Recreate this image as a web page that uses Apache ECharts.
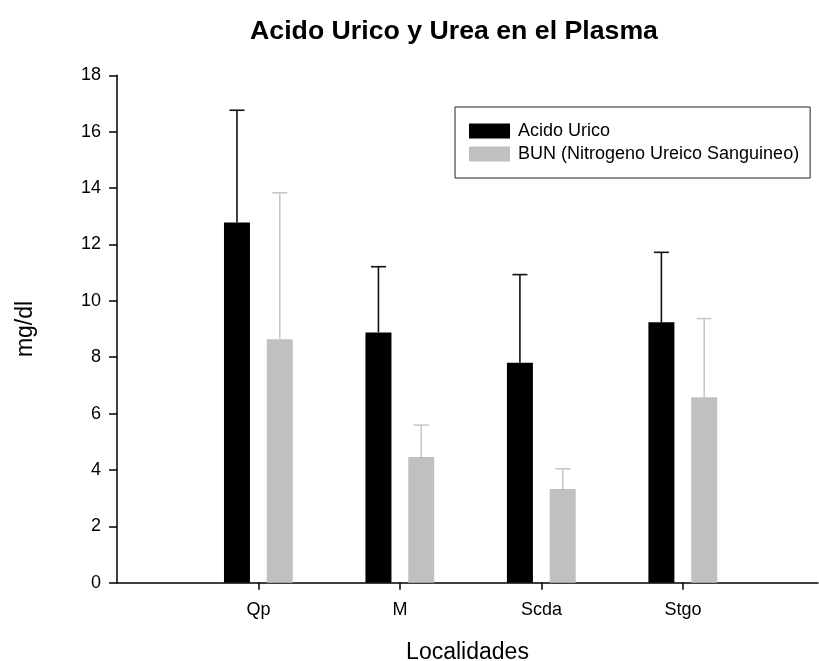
<!DOCTYPE html>
<html>
<head>
<meta charset="utf-8">
<script src="https://cdn.jsdelivr.net/npm/echarts@6/dist/echarts.min.js"></script>
<style>html,body{margin:0;padding:0;background:#fff}#c{width:819px;height:661px}</style>
</head>
<body>
<div id="c"></div>
<script>
var categories = ['Qp', 'M', 'Scda', 'Stgo'];
var seriesNames = ['Acido Urico', 'BUN (Nitrogeno Ureico Sanguineo)'];
var acidoUrico = [12.78, 8.88, 7.80, 9.24];
var acidoUricoErr = [3.98, 2.33, 3.13, 2.48];
var bun = [8.64, 4.46, 3.32, 6.58];
var bunErr = [5.19, 1.13, 0.72, 2.79];
var yTicks = [0, 2, 4, 6, 8, 10, 12, 14, 16, 18];

var chart = echarts.init(document.getElementById('c'));
var FONT = 'Liberation Sans, Arial, sans-serif';

function makeData(vals, errs) {
  return vals.map(function (v, i) { return [i + 1, v, v + errs[i]]; });
}

function barRenderer(offset, fill, errColor) {
  return function (params, api) {
    var x = api.value(0), v = api.value(1), top = api.value(2);
    var base = api.coord([x, 0]);
    var p = api.coord([x, v]);
    var e = api.coord([x, top]);
    var cx = base[0] + offset;
    var w = 26;
    return {
      type: 'group',
      children: [
        { type: 'line', shape: { x1: cx, y1: p[1], x2: cx, y2: e[1] },
          style: { stroke: errColor, lineWidth: 1.6 } },
        { type: 'line', shape: { x1: cx - 7.5, y1: e[1], x2: cx + 7.5, y2: e[1] },
          style: { stroke: errColor, lineWidth: 1.6 } },
        { type: 'rect', shape: { x: cx - w / 2, y: p[1], width: w, height: base[1] - p[1] },
          style: { fill: fill } }
      ]
    };
  };
}

var option = {
  animation: false,
  backgroundColor: '#fff',
  title: {
    text: 'Acido Urico y Urea en el Plasma',
    left: 449, top: 13, textAlign: 'center',
    textStyle: { fontFamily: FONT, fontSize: 26.7, fontWeight: 'bold', color: '#000' }
  },
  legend: {
    orient: 'vertical', left: 455, top: 107,
    padding: [15, 11, 15, 14],
    borderColor: '#222', borderWidth: 1,
    itemWidth: 41, itemHeight: 15, itemGap: 5,
    icon: 'rect',
    data: seriesNames,
    textStyle: { fontFamily: FONT, fontSize: 18, color: '#000', padding: [0, 0, 0, 3] }
  },
  grid: { left: 117, right: 1, top: 75.3, bottom: 78.3, containLabel: false, outerBoundsMode: 'none' },
  xAxis: {
    type: 'value', min: 0, max: 4.955, interval: 1,
    splitLine: { show: false },
    name: 'Localidades', nameLocation: 'middle', nameGap: 58,
    nameTextStyle: { fontFamily: FONT, fontSize: 23, color: '#000' },
    axisLine: { lineStyle: { color: '#000', width: 1.5 } },
    axisTick: { customValues: [1, 2, 3, 4], length: 7, lineStyle: { color: '#000', width: 1.5 } },
    axisLabel: {
      customValues: [1, 2, 3, 4], margin: 18,
      fontFamily: FONT, fontSize: 18, color: '#000',
      formatter: function (v) { return categories[Math.round(v) - 1] || ''; }
    }
  },
  yAxis: {
    type: 'value', min: 0, max: 18, interval: 2,
    splitLine: { show: false },
    name: 'mg/dl', nameLocation: 'middle', nameGap: 80, nameRotate: 90,
    nameTextStyle: { fontFamily: FONT, fontSize: 23, color: '#000' },
    axisLine: { show: true, lineStyle: { color: '#000', width: 1.5 } },
    axisTick: { show: true, length: 8, lineStyle: { color: '#000', width: 1.5 } },
    axisLabel: {
      margin: 16, fontFamily: FONT, fontSize: 18, color: '#000',
      formatter: function (v) { return yTicks.indexOf(v) >= 0 ? String(v) : ''; }
    }
  },
  series: [
    {
      name: seriesNames[0], type: 'custom',
      itemStyle: { color: '#000000' },
      renderItem: barRenderer(-21.5, '#000000', '#111111'),
      data: makeData(acidoUrico, acidoUricoErr)
    },
    {
      name: seriesNames[1], type: 'custom',
      itemStyle: { color: '#c0c0c0' },
      renderItem: barRenderer(21.3, '#c0c0c0', '#c8c8c8'),
      data: makeData(bun, bunErr)
    }
  ]
};
chart.setOption(option);
</script>
</body>
</html>
